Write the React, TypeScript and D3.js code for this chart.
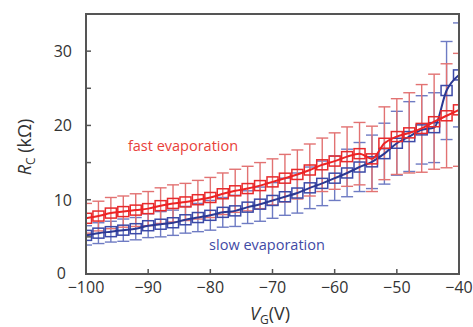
import React from "react";
import * as d3 from "d3";

const gateVoltages = d3.range(-100, -39, 2);
const fastValues = [7.5, 7.8, 8.2, 8.4, 8.6, 8.8, 9.2, 9.5, 9.7, 10.0, 10.3, 10.8, 11.2, 11.5, 11.9, 12.4, 12.9, 13.4, 14.0, 14.7, 15.2, 15.8, 16.2, 15.5, 17.6, 18.5, 19.0, 19.6, 20.5, 21.3, 22.1];
const fastErrors = [2.0, 2.0, 2.1, 2.1, 2.2, 2.3, 2.4, 2.5, 2.5, 2.6, 2.7, 2.8, 2.9, 3.0, 3.1, 3.1, 3.2, 3.3, 3.5, 3.6, 3.8, 4.0, 4.2, 4.4, 4.9, 5.1, 5.4, 5.9, 6.4, 7.0, 7.6];
const slowValues = [5.2, 5.5, 5.7, 5.9, 6.1, 6.5, 6.7, 6.9, 7.3, 7.6, 7.9, 8.3, 8.5, 9.0, 9.4, 9.9, 10.4, 10.9, 11.6, 12.2, 12.9, 13.6, 14.4, 15.1, 16.2, 17.6, 18.5, 19.4, 19.7, 24.7, 26.8];
const slowErrors = [1.3, 1.4, 1.4, 1.5, 1.5, 1.6, 1.7, 1.7, 1.8, 1.9, 2.0, 2.0, 2.1, 2.2, 2.3, 2.4, 2.5, 2.7, 2.8, 3.0, 3.0, 3.2, 3.3, 3.6, 4.1, 4.3, 4.7, 4.6, 4.7, 6.6, 7.0];
const xTicks = [-100, -90, -80, -70, -60, -50, -40];
const yTicks = [0, 10, 20, 30];
const yMinorTicks = [5, 15, 25];

const W = 473, H = 327;
const L = 86, R = 459, T = 14, B = 274;

export default function App() {
  const x = d3.scaleLinear().domain([-100, -40]).range([L, R]);
  const y = d3.scaleLinear().domain([0, 35]).range([B, T]);
  const font = "'Open Sans', 'Noto Sans', sans-serif";

  const series = [
    { key: "slow", values: slowValues, errs: slowErrors, line: "#2b3893", box: "#3c4aa8", bar: "#6e7bc3" },
    { key: "fast", values: fastValues, errs: fastErrors, line: "#ee2324", box: "#e8292b", bar: "#e27272" },
  ];

  const lineGen = (vals: number[]) =>
    d3.line<number>().x((_, i) => x(gateVoltages[i])).y((v) => y(v)).curve(d3.curveMonotoneX)(vals) || "";

  const capW = 12;
  const bw = 11, bh = 10;

  return (
    <svg width={W} height={H} style={{ position: "absolute", left: 0, top: 0, background: "#fff" }} fontFamily={font}>
      <defs>
        <clipPath id="plot">
          <rect x={L} y={T} width={R - L} height={B - T} />
        </clipPath>
      </defs>
      <g clipPath="url(#plot)">
        {series.map((s) => (
          <g key={s.key + "err"} stroke={s.bar} strokeWidth={1.4}>
            {s.values.map((v, i) => {
              const cx = x(gateVoltages[i]);
              const y1 = y(v + s.errs[i]);
              const y0 = y(v - s.errs[i]);
              return (
                <g key={i}>
                  <line x1={cx} x2={cx} y1={y1} y2={y0} />
                  <line x1={cx - capW / 2} x2={cx + capW / 2} y1={y1} y2={y1} />
                  <line x1={cx - capW / 2} x2={cx + capW / 2} y1={y0} y2={y0} />
                </g>
              );
            })}
          </g>
        ))}
        {series.map((s) => (
          <g key={s.key + "marks"}>
            {s.values.map((v, i) => (
              <rect key={i} x={x(gateVoltages[i]) - bw / 2} y={y(v) - bh / 2} width={bw} height={bh}
                fill="none" stroke={s.box} strokeWidth={1.5} />
            ))}
            <path d={lineGen(s.values)} fill="none" stroke={s.line} strokeWidth={2} />
          </g>
        ))}
      </g>
      <rect x={L} y={T} width={R - L} height={B - T} fill="none" stroke="#555" strokeWidth={2} />
      {xTicks.map((t) => (
        <g key={"x" + t}>
          <line x1={x(t)} x2={x(t)} y1={B} y2={B - 5} stroke="#555" strokeWidth={1.5} />
          <text x={x(t)} y={293} textAnchor="middle" fontSize={16} fill="#333">
            {t < 0 ? "\u2212" + Math.abs(t) : String(t)}
          </text>
        </g>
      ))}
      {[...yTicks, ...yMinorTicks].map((t) => (
        <line key={"yt" + t} x1={L} x2={L + 5} y1={y(t)} y2={y(t)} stroke="#555" strokeWidth={1.5} />
      ))}
      {yTicks.map((t) => (
        <text key={"yl" + t} x={t === 0 ? 66 : 72} y={y(t) + (t === 0 ? 5 : 6)} textAnchor="end" fontSize={16} fill="#333">{t}</text>
      ))}
      <text x={183} y={151} textAnchor="middle" fontSize={14.5} fill="#e8413a">fast evaporation</text>
      <text x={267} y={250} textAnchor="middle" fontSize={14.5} fill="#3f4aa5">slow evaporation</text>
      <text x={270} y={320} textAnchor="middle" fontSize={18} fill="#333">
        <tspan fontStyle="italic">V</tspan>
        <tspan fontSize={12} dy={4}>G</tspan>
        <tspan dy={-4}>(V)</tspan>
      </text>
      <text transform="translate(31,147) rotate(-90)" textAnchor="middle" fontSize={18} fill="#333">
        <tspan fontStyle="italic">R</tspan>
        <tspan fontSize={12} dy={4}>C</tspan>
        <tspan dy={-4}> (kΩ)</tspan>
      </text>
    </svg>
  );
}
